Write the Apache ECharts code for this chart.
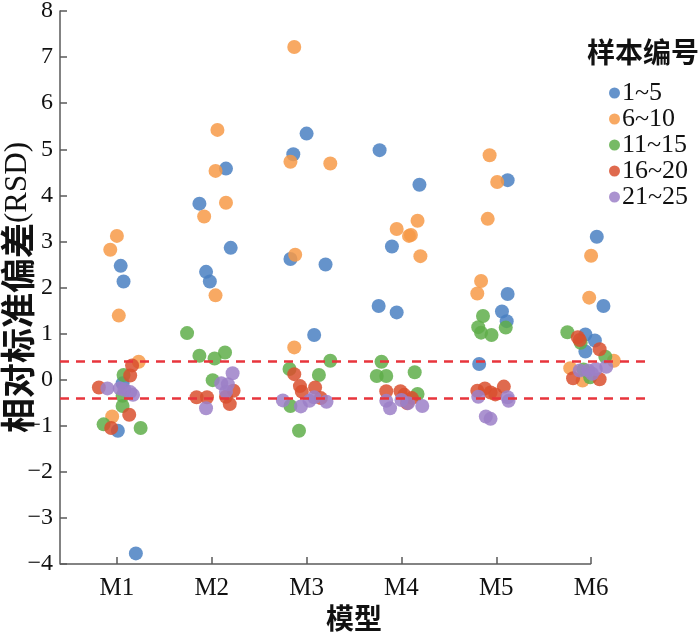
<!DOCTYPE html>
<html>
<head>
<meta charset="utf-8">
<script src="https://cdn.jsdelivr.net/npm/echarts@6/dist/echarts.min.js"></script>
<style>
  html, body { margin: 0; padding: 0; background: #fff; }
  #chart { width: 700px; height: 635px; }
</style>
</head>
<body>
<div id="chart"></div>
<script>
// categories and tick labels
const models = ['M1', 'M2', 'M3', 'M4', 'M5', 'M6'];
const modelPos = [1, 2, 3, 4, 5, 6];
const yTicks = [-4, -3, -2, -1, 0, 1, 2, 3, 4, 5, 6, 7, 8];
const groupNames = ['1~5', '6~10', '11~15', '16~20', '21~25'];
const groupColors = ['#4a80c2', '#f79a48', '#5fae4a', '#d9502f', '#9c80c8'];
const limits = [0.4, -0.4];

// jittered points [x, RSD]
const g1 = [
    [1.04, 2.47], [1.07, 2.13], [1.06, -0.08], [1.01, -1.11], [1.20, -3.77],
    [2.15, 4.58], [1.87, 3.82], [2.20, 2.86], [1.94, 2.34], [1.98, 2.13],
    [3.00, 5.34], [2.86, 4.89], [2.83, 2.62], [3.20, 2.50], [3.08, 0.97],
    [3.77, 4.98], [4.19, 4.23], [3.90, 2.89], [3.76, 1.60], [3.95, 1.46],
    [5.12, 4.33], [5.12, 1.86], [5.06, 1.48], [5.11, 1.27], [4.82, 0.34],
    [6.06, 3.10], [6.13, 1.60], [5.94, 0.98], [6.04, 0.85], [5.94, 0.61]
];
const g2 = [
    [1.00, 3.12], [0.93, 2.82], [1.02, 1.39], [1.23, 0.39], [0.95, -0.80],
    [2.06, 5.42], [2.04, 4.53], [2.15, 3.84], [1.92, 3.54], [2.04, 1.83],
    [2.87, 7.22], [2.83, 4.73], [3.25, 4.69], [2.88, 2.71], [2.87, 0.70],
    [3.95, 3.27], [4.17, 3.45], [4.08, 3.12], [4.10, 3.14], [4.20, 2.68],
    [4.93, 4.87], [5.01, 4.29], [4.91, 3.49], [4.84, 2.14], [4.80, 1.87],
    [6.00, 2.69], [5.98, 1.78], [6.24, 0.41], [5.78, 0.25], [5.91, -0.02]
];
const g3 = [
    [1.07, 0.10], [1.06, -0.35], [1.06, -0.57], [0.86, -0.97], [1.25, -1.05],
    [1.74, 1.01], [1.87, 0.52], [2.03, 0.46], [2.14, 0.59], [2.01, -0.01],
    [3.25, 0.41], [2.82, 0.23], [3.13, 0.10], [2.83, -0.57], [2.92, -1.11],
    [3.79, 0.39], [3.74, 0.08], [3.84, 0.08], [4.14, 0.16], [4.17, -0.31],
    [4.86, 1.38], [4.81, 1.14], [4.84, 1.02], [4.95, 0.97], [5.10, 1.13],
    [5.75, 1.03], [5.89, 0.80], [6.15, 0.50], [5.99, 0.05], [5.92, 0.22]
];
const g4 = [
    [1.16, 0.31], [1.14, 0.09], [0.81, -0.17], [1.13, -0.76], [0.94, -1.05],
    [1.84, -0.38], [1.95, -0.38], [2.23, -0.24], [2.19, -0.53], [2.15, -0.37],
    [2.87, 0.12], [2.93, -0.14], [2.95, -0.26], [3.09, -0.17], [3.15, -0.40],
    [3.84, -0.25], [3.99, -0.25], [4.03, -0.33], [4.06, -0.51], [4.11, -0.40],
    [4.80, -0.24], [4.88, -0.19], [4.94, -0.28], [4.99, -0.32], [5.08, -0.15],
    [5.86, 0.92], [5.88, 0.86], [6.09, 0.66], [5.81, 0.03], [6.09, 0.01]
];
const g5 = [
    [0.90, -0.19], [1.03, -0.19], [1.08, -0.22], [1.14, -0.27], [1.17, -0.33],
    [2.22, 0.14], [2.10, -0.08], [2.17, -0.10], [2.15, -0.26], [1.94, -0.62],
    [2.75, -0.45], [2.94, -0.58], [3.03, -0.46], [3.08, -0.38], [3.21, -0.48],
    [3.84, -0.46], [3.88, -0.62], [4.00, -0.44], [4.07, -0.51], [4.22, -0.57],
    [4.81, -0.37], [5.12, -0.38], [5.13, -0.46], [4.89, -0.80], [4.94, -0.85],
    [5.88, 0.20], [5.97, 0.20], [6.05, 0.23], [6.16, 0.28], [6.01, 0.13]
];

const groups = [g1, g2, g3, g4, g5];

const serif = '"Liberation Serif", "Times New Roman", serif';
const hei = '"Noto Sans CJK SC", sans-serif';
const axisGray = '#5a5a5a';

const chart = echarts.init(document.getElementById('chart'));

const xMin = 0.4;
const xMax = 6.6;
const yMin = yTicks[0];

const series = groups.map((pts, i) => ({
    name: groupNames[i],
    type: 'scatter',
    data: pts,
    symbol: 'circle',
    symbolSize: 14,
    itemStyle: { color: groupColors[i], opacity: 0.85 },
    z: 3 + i
}));

// dashed limits and the bottom axis line (ends at the last model)
series[0].markLine = {
    silent: true,
    symbol: 'none',
    label: { show: false },
    z: 10,
    data: [
        ...limits.map((v) => ({
            yAxis: v,
            lineStyle: { color: '#e8353c', width: 2.5, type: [9, 7] }
        })),
        [
            { coord: [xMin, yMin], lineStyle: { color: axisGray, width: 1.5, type: 'solid' } },
            { coord: [modelPos[modelPos.length - 1], yMin] }
        ]
    ]
};

const option = {
    animation: false,
    title: {
        text: '样本编号',
        left: 582,
        top: 33,
        textStyle: { fontFamily: hei, fontSize: 28, fontWeight: 'bold', color: '#111' }
    },
    legend: {
        data: groupNames,
        orient: 'vertical',
        left: 604,
        top: 75,
        itemWidth: 11,
        itemHeight: 11,
        itemGap: 0,
        icon: 'circle',
        textStyle: { fontFamily: serif, fontSize: 26, lineHeight: 23, color: '#111', padding: [0, 0, 0, -3] }
    },
    grid: { left: 60, right: 52, top: 11, bottom: 71, outerBoundsMode: 'none' },
    xAxis: {
        type: 'value',
        min: xMin,
        max: xMax,
        name: '模型',
        nameLocation: 'middle',
        nameGap: 40,
        nameMoveOverlap: false,
        nameTextStyle: { fontFamily: hei, fontSize: 28, fontWeight: 'bold', color: '#111' },
        axisLine: { show: false, onZero: false },
        axisTick: {
            show: true,
            inside: true,
            length: 7,
            customValues: modelPos,
            lineStyle: { color: axisGray, width: 1.5 }
        },
        axisLabel: {
            customValues: modelPos,
            formatter: (v) => models[modelPos.indexOf(Math.round(v))] || '',
            margin: 12,
            fontFamily: serif,
            fontSize: 25,
            color: '#111'
        },
        splitLine: { show: false }
    },
    yAxis: {
        type: 'value',
        min: yTicks[0],
        max: yTicks[yTicks.length - 1],
        interval: 1,
        name: '{c|相对标准偏差}{l|(RSD)}',
        nameLocation: 'middle',
        nameGap: 25,
        nameMoveOverlap: false,
        nameTextStyle: {
            rich: {
                c: { fontFamily: hei, fontSize: 35, fontWeight: 'bold', color: '#111' },
                l: { fontFamily: serif, fontSize: 31, color: '#111' }
            }
        },
        axisLine: { show: true, onZero: false, lineStyle: { color: axisGray, width: 1.5 } },
        axisTick: { show: true, inside: true, length: 7, lineStyle: { color: axisGray, width: 1.5 } },
        axisLabel: {
            formatter: (v) => String(v).replace('-', '\u2212'),
            margin: 7,
            fontFamily: serif,
            fontSize: 24,
            color: '#111'
        },
        splitLine: { show: false }
    },
    series
};

chart.setOption(option);

window.addEventListener('resize', () => chart.resize());
</script>
</body>
</html>
